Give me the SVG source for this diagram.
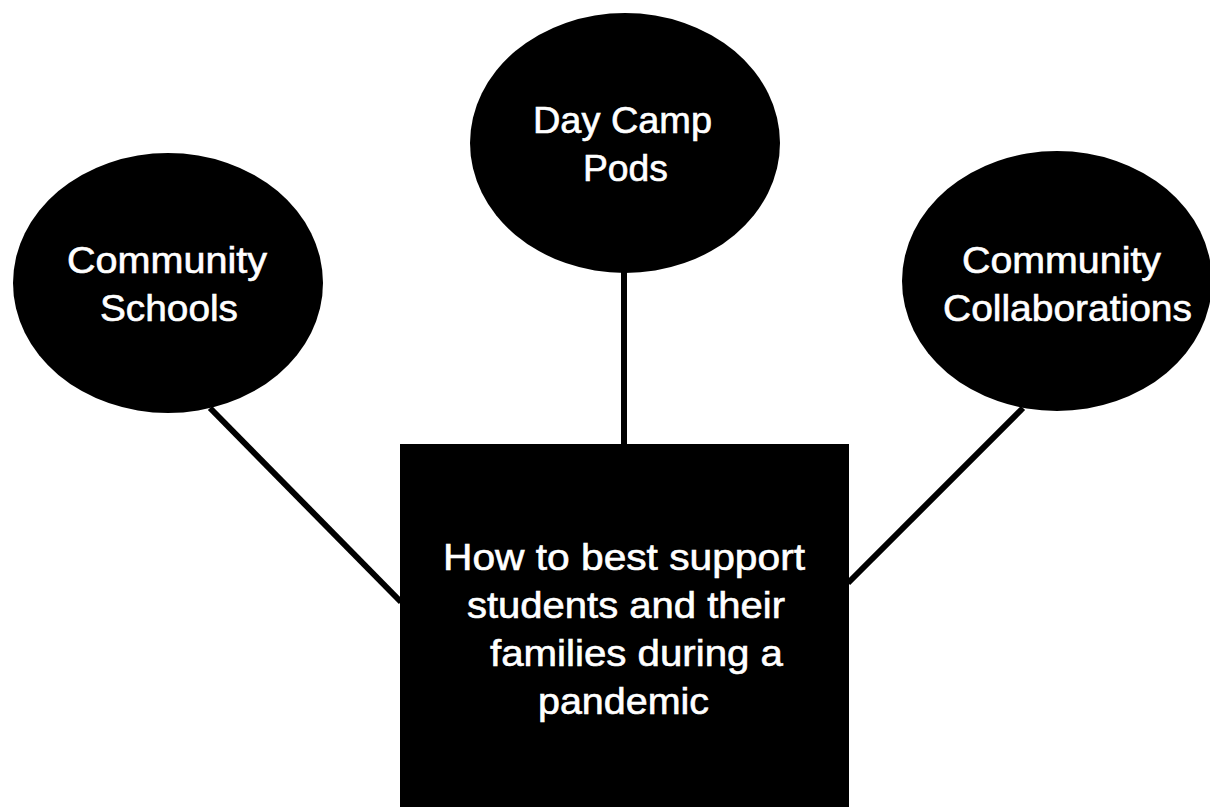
<svg xmlns="http://www.w3.org/2000/svg" width="1210" height="807" viewBox="0 0 1210 807">
<style>
.node{fill:#000;}
.lbl{fill:#fff;stroke:#fff;stroke-width:0.6;font-family:"Liberation Sans",Arial,Helvetica,sans-serif;font-size:36px;}
.conn{stroke:#000;stroke-width:6;fill:none;}
</style>
<rect x="0" y="0" width="1210" height="807" fill="#fff"/>
<g id="connectors">
<line class="conn" x1="210" y1="408" x2="401" y2="602"/>
<line class="conn" x1="624" y1="270" x2="624" y2="446"/>
<line class="conn" x1="1023" y1="408" x2="848" y2="583"/>
</g>
<g id="node-community-schools">
<ellipse class="node" cx="168" cy="283" rx="155" ry="130"/>
<text class="lbl" x="67" y="273" textLength="200" lengthAdjust="spacingAndGlyphs">Community</text>
<text class="lbl" x="100" y="321" textLength="138" lengthAdjust="spacingAndGlyphs">Schools</text>
</g>
<g id="node-day-camp-pods">
<ellipse class="node" cx="625" cy="143" rx="155" ry="130"/>
<text class="lbl" x="533" y="133" textLength="179" lengthAdjust="spacingAndGlyphs">Day Camp</text>
<text class="lbl" x="583" y="181" textLength="85" lengthAdjust="spacingAndGlyphs">Pods</text>
</g>
<g id="node-community-collaborations">
<ellipse class="node" cx="1057" cy="281" rx="155" ry="130"/>
<text class="lbl" x="962" y="273" textLength="199" lengthAdjust="spacingAndGlyphs">Community</text>
<text class="lbl" x="943" y="321" textLength="249" lengthAdjust="spacingAndGlyphs">Collaborations</text>
</g>
<g id="node-center">
<rect class="node" x="400" y="444" width="449" height="363"/>
<text class="lbl" x="443" y="570" textLength="362" lengthAdjust="spacingAndGlyphs">How to best support</text>
<text class="lbl" x="467" y="618" textLength="318" lengthAdjust="spacingAndGlyphs">students and their</text>
<text class="lbl" x="490" y="666" textLength="293" lengthAdjust="spacingAndGlyphs">families during a</text>
<text class="lbl" x="538" y="714" textLength="171" lengthAdjust="spacingAndGlyphs">pandemic</text>
</g>
</svg>
